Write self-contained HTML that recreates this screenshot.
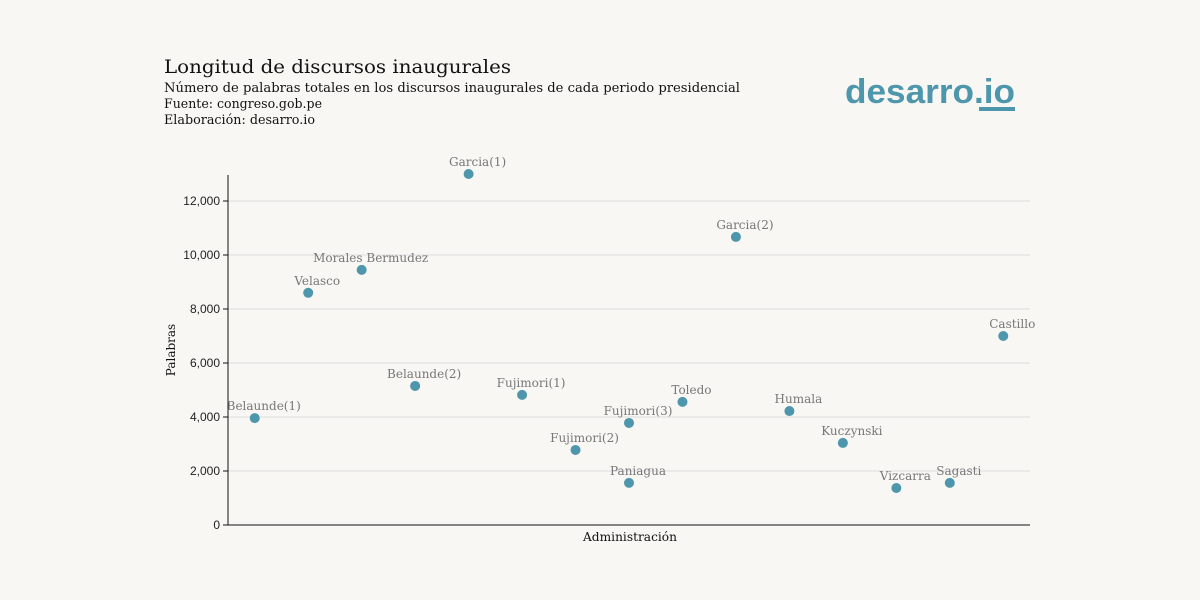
<!DOCTYPE html>
<html><head><meta charset="utf-8"><style>
body{margin:0;background:#f8f7f4;}
svg{display:block;}
.t{font-family:"DejaVu Serif","Liberation Serif",serif;fill:#111;}
.lbl{font-family:"DejaVu Serif","Liberation Serif",serif;fill:#777;font-size:12px;text-anchor:middle;}
.tick{font-family:"Liberation Sans",sans-serif;font-size:12px;fill:#222;text-anchor:end;}
</style></head><body>
<svg id="chart" width="1200" height="600">
<rect width="1200" height="600" fill="#f8f7f4"/>
<text class="t" x="164" y="73" font-size="19" textLength="347" lengthAdjust="spacingAndGlyphs">Longitud de discursos inaugurales</text>
<text class="t" x="164" y="92" font-size="13" textLength="576" lengthAdjust="spacingAndGlyphs">Número de palabras totales en los discursos inaugurales de cada periodo presidencial</text>
<text class="t" x="164" y="108" font-size="13" textLength="158" lengthAdjust="spacingAndGlyphs">Fuente: congreso.gob.pe</text>
<text class="t" x="164" y="124" font-size="13" textLength="151" lengthAdjust="spacingAndGlyphs">Elaboración: desarro.io</text>
<g>
<text x="845" y="103" font-family="Liberation Sans,sans-serif" font-weight="bold" font-size="34" textLength="170" lengthAdjust="spacingAndGlyphs" fill="#4e96ab">desarro.io</text>
<rect x="979" y="107" width="36" height="4" fill="#4e96ab"/>
</g>
<g id="grid"></g>
<g id="axes"></g>
<g id="marks"></g>
<text class="t" x="630" y="541" font-size="12" text-anchor="middle" textLength="94" lengthAdjust="spacingAndGlyphs" fill="#111">Administración</text>
<text class="t" x="0" y="0" font-size="12" text-anchor="middle" transform="translate(175,350) rotate(-90)">Palabras</text>
</svg>
<script>
const names=["Belaunde(1)","Velasco","Morales Bermudez","Belaunde(2)","Garcia(1)","Fujimori(1)","Fujimori(2)","Fujimori(3)","Paniagua","Toledo","Garcia(2)","Humala","Kuczynski","Vizcarra","Sagasti","Castillo"];
const slots=[0,1,2,3,4,5,6,7,7,8,9,10,11,12,13,14];
const words=[3960,8600,9450,5150,13000,4820,2780,3780,1560,4560,10670,4220,3040,1370,1560,7000];
const yTicks=[0,2000,4000,6000,8000,10000,12000];
const NS="http://www.w3.org/2000/svg";
const x0=228,x1=1030,yb=525,nSlots=15;
const bw=(x1-x0)/nSlots;
const X=i=>x0+bw*(i+0.5);
const Y=v=>yb-v*0.027;
function mk(t,a,p){const e=document.createElementNS(NS,t);for(const k in a)e.setAttribute(k,a[k]);p.appendChild(e);return e;}
const grid=document.getElementById('grid'),axes=document.getElementById('axes'),marks=document.getElementById('marks');
yTicks.forEach(v=>{
 if(v>0){const g=mk('line',{x1:x0,x2:x1,y1:Y(v),y2:Y(v),stroke:'#ddd','stroke-width':1},grid);
 
 }
 const tk=mk('line',{x1:x0-5,x2:x0,y1:Y(v),y2:Y(v),stroke:'#111'},axes);
 
 
 const t=mk('text',{x:x0-8,y:Y(v)+4,class:'tick'},axes);t.textContent=v.toLocaleString('en-US');
 
 
});
const ya=mk('line',{x1:x0,x2:x0,y1:175,y2:yb,stroke:'#111'},axes);


const xa=mk('line',{x1:x0,x2:x1,y1:yb,y2:yb,stroke:'#111'},axes);


names.forEach((n,i)=>{
 const c=mk('circle',{cx:X(slots[i]),cy:Y(words[i]),r:5,fill:'#4e96ab'},marks);
 
 
 const t=mk('text',{x:X(slots[i])+9,y:Y(words[i])-8,class:'lbl'},marks);t.textContent=n;
 
 
});
</script>
</body></html>
